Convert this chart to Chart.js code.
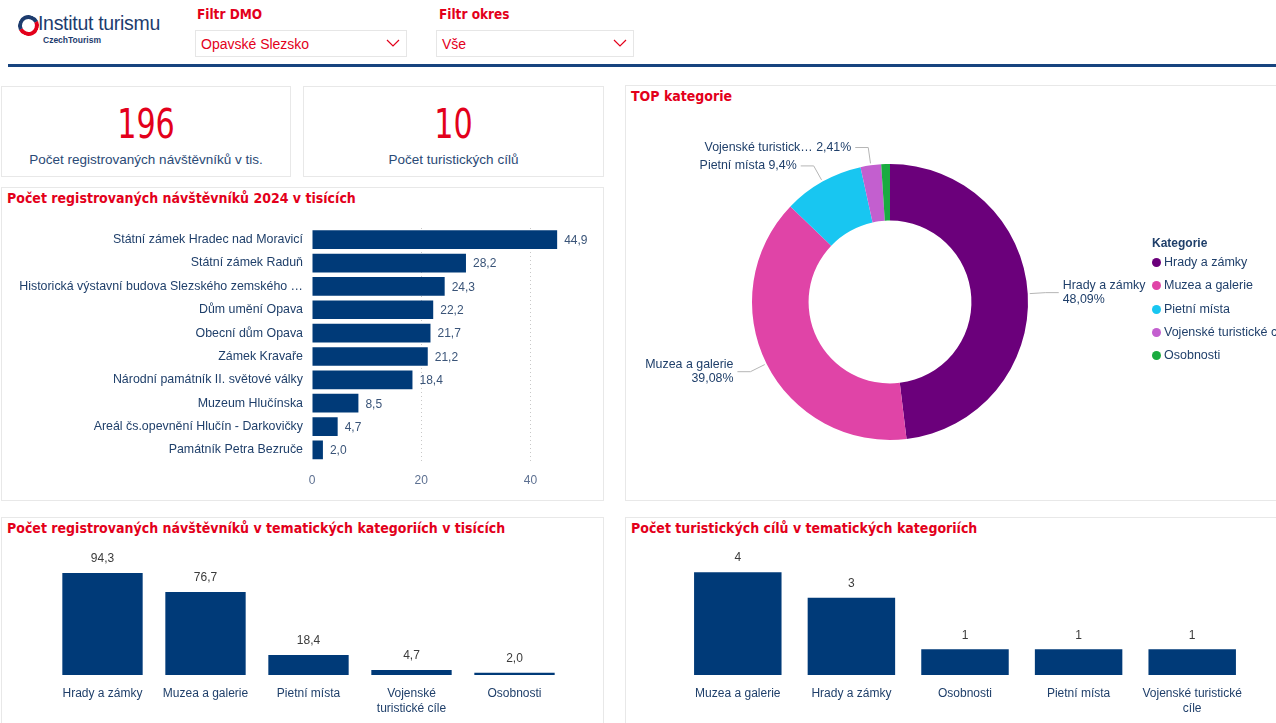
<!DOCTYPE html>
<html lang="cs">
<head>
<meta charset="utf-8">
<title>Institut turismu - Opavské Slezsko</title>
<script src="https://cdn.jsdelivr.net/npm/chart.js@4.4.1/dist/chart.umd.min.js"></script>
<style>
  body { margin:0; width:1276px; height:723px; overflow:hidden; background:#fff; position:relative;
         font-family:"Liberation Sans", Arial, sans-serif; }
  .box { position:absolute; background:#fff; border:1px solid #e8e8e8; box-sizing:border-box; }
  .title { position:absolute; left:5px; top:2px; font-family:"Liberation Sans Narrow","DejaVu Sans Condensed",sans-serif;
           font-weight:bold; font-size:14px; color:#e3001b; white-space:nowrap; }
  .kpi-num { position:absolute; left:0; right:0; top:14px; text-align:center; color:#e3001b;
             font-family:"Liberation Sans Narrow","DejaVu Sans Condensed",sans-serif; font-size:40px;
             transform:scaleX(0.84); }
  .kpi-lbl { position:absolute; left:0; right:0; top:65px; text-align:center; color:#2a4a76; font-size:13.5px; }
  .chart { position:absolute; }
  .flt-lbl { position:absolute; top:6px; font-family:"Liberation Sans Narrow","DejaVu Sans Condensed",sans-serif;
             font-weight:bold; font-size:13.5px; color:#e3001b; }
  .flt { position:absolute; top:30px; height:27px; border:1px solid #e6e6e6; box-sizing:border-box;
         color:#e3001b; font-size:14px; line-height:26px; padding-left:5px; }
  .flt svg { position:absolute; right:6px; top:8px; }
  #legend { position:absolute; left:1152px; top:236px; font-size:12.5px; color:#1f3f6a; }
  #legend .hd { font-weight:bold; font-size:12px; margin-bottom:3px; }
  #legend .it { height:23.3px; line-height:18px; white-space:nowrap; }
  #legend .dot { display:inline-block; width:9px; height:9px; border-radius:50%; margin-right:3px; vertical-align:-1px; }
</style>
</head>
<body>

<!-- hlavicka -->
<div style="position:absolute;left:18px;top:15px;width:13px;height:13px;border:4px solid #1d3c6e;border-right-color:#e3001b;border-bottom-color:#e3001b;border-radius:50%;transform:rotate(20deg)"></div>
<div style="position:absolute;left:38px;top:12px;font-size:19.5px;color:#1d3c6e;letter-spacing:-0.3px">Institut turismu</div>
<div style="position:absolute;left:43px;top:35px;font-size:8.5px;font-weight:bold;color:#1d3c6e">CzechTourism</div>

<div class="flt-lbl" style="left:197px">Filtr DMO</div>
<div class="flt" style="left:195px;width:212px">Opavské Slezsko
  <svg width="14" height="9"><polyline points="1,1 7,7 13,1" fill="none" stroke="#e3001b" stroke-width="1.2"/></svg></div>
<div class="flt-lbl" style="left:439px">Filtr okres</div>
<div class="flt" style="left:436px;width:198px">Vše
  <svg width="14" height="9"><polyline points="1,1 7,7 13,1" fill="none" stroke="#e3001b" stroke-width="1.2"/></svg></div>
<div style="position:absolute;left:8px;top:64px;width:1268px;height:3px;background:#17447f"></div>

<!-- panely -->
<div class="box" style="left:1px;top:86px;width:290px;height:91px">
  <div class="kpi-num" id="kpiVisitors"></div>
  <div class="kpi-lbl">Počet registrovaných návštěvníků v tis.</div>
</div>
<div class="box" style="left:303px;top:86px;width:301px;height:91px">
  <div class="kpi-num" id="kpiPlaces"></div>
  <div class="kpi-lbl">Počet turistických cílů</div>
</div>
<div class="box" style="left:1px;top:187px;width:603px;height:314px">
  <div class="title">Počet registrovaných návštěvníků 2024 v tisících</div>
</div>
<div class="box" style="left:625px;top:85px;width:660px;height:416px">
  <div class="title">TOP kategorie</div>
</div>
<div class="box" style="left:1px;top:517px;width:603px;height:220px">
  <div class="title">Počet registrovaných návštěvníků v tematických kategoriích v tisících</div>
</div>
<div class="box" style="left:625px;top:517px;width:660px;height:220px">
  <div class="title">Počet turistických cílů v tematických kategoriích</div>
</div>

<div class="chart" style="left:0;top:210px;width:603px;height:290px"><canvas id="placesChart"></canvas></div>
<div class="chart" style="left:625px;top:110px;width:651px;height:390px"><canvas id="donutChart"></canvas></div>
<div id="legend"></div>
<div class="chart" style="left:0;top:545px;width:603px;height:182px"><canvas id="catVisitChart"></canvas></div>
<div class="chart" style="left:625px;top:545px;width:651px;height:182px"><canvas id="catCountChart"></canvas></div>

<script>
// Data

let places = [
  "Státní zámek Hradec nad Moravicí",
  "Státní zámek Raduň",
  "Historická výstavní budova Slezského zemského muzea",
  "Dům umění Opava",
  "Obecní dům Opava",
  "Zámek Kravaře",
  "Národní památník II. světové války",
  "Muzeum Hlučínska",
  "Areál čs.opevnění Hlučín - Darkovičky",
  "Památník Petra Bezruče",
];
let placeVisitors = [44.9, 28.2, 24.3, 22.2, 21.7, 21.2, 18.4, 8.5, 4.7, 2.0];

let categories = ["Hrady a zámky", "Muzea a galerie", "Pietní místa", "Vojenské turistické cíle", "Osobnosti"];
let categoryVisitors = [94.33, 76.66, 18.44, 4.73, 2.0];
let categoryColors = ["#6b007b", "#e044a7", "#18c6f1", "#c35fcf", "#1aab40"];

let countCategories = ["Muzea a galerie", "Hrady a zámky", "Osobnosti", "Pietní místa", "Vojenské turistické cíle"];
let countValues = [4, 3, 1, 1, 1];

let xTicks = [0, 20, 40];

const navy = "#003a78";
const textBlue = "#1f3f6a";
const font = "'Liberation Sans', Arial, sans-serif";

// KPI
document.getElementById("kpiVisitors").textContent = Math.round(placeVisitors.reduce((a, b) => a + b, 0));
document.getElementById("kpiPlaces").textContent = places.length;

const fmt1 = v => v.toFixed(1).replace(".", ",");

function wrap(label, max) {
  let words = label.split(" ");
  let lines = [];
  let cur = "";
  words.forEach(w => {
    if (cur && (cur + " " + w).length > max) { lines.push(cur); cur = w; }
    else cur = cur ? cur + " " + w : w;
  });
  lines.push(cur);
  return lines;
}

// value labels next to / above bars
const barValues = {
  id: "barValues",
  afterDatasetsDraw(chart, args, opts) {
    const ctx = chart.ctx;
    const meta = chart.getDatasetMeta(0);
    const data = chart.data.datasets[0].data;
    ctx.save();
    ctx.font = "12px " + font;
    ctx.fillStyle = opts.color;
    meta.data.forEach((bar, i) => {
      const txt = opts.format(data[i]);
      ctx.textBaseline = "middle";
      if (chart.options.indexAxis === "y") {
        ctx.textAlign = "left";
        ctx.fillText(txt, bar.x + 7, bar.y + 1);
      } else {
        ctx.textAlign = "center";
        ctx.fillText(txt, bar.x, bar.y - 14);
      }
    });
    ctx.restore();
  }
};

Chart.defaults.animation = false;
Chart.defaults.font.family = font;
Chart.defaults.font.size = 12;
Chart.defaults.plugins.legend.display = false;
Chart.defaults.plugins.tooltip.enabled = false;

// Horizontal bars
new Chart(document.getElementById("placesChart"), {
  type: "bar",
  data: {
    labels: places,
    datasets: [{ data: placeVisitors, backgroundColor: navy, barPercentage: 0.8, categoryPercentage: 1 }]
  },
  options: {
    indexAxis: "y",
    responsive: true,
    maintainAspectRatio: false,
    layout: { padding: { top: 18, right: 18, bottom: 0, left: 0 } },
    scales: {
      x: {
        min: 0, max: 50,
        afterBuildTicks: scale => { scale.ticks = xTicks.map(v => ({ value: v })); },
        ticks: { color: "#5d7091", padding: 12 },
        border: { display: false, dash: [1, 3] },
        grid: { drawTicks: false, color: c => c.tick && c.tick.value === 0 ? "rgba(0,0,0,0)" : "#c8c8c8", lineWidth: 1 }
      },
      y: {
        afterFit: scale => { scale.width = 312; },
        ticks: {
          color: textBlue, padding: 9, autoSkip: false, font: { size: 12.4 },
          callback: function (v) {
            let l = this.getLabelForValue(v);
            return l.length > 46 ? l.slice(0, 45) + " …" : l;
          }
        },
        border: { display: false },
        grid: { display: false, drawTicks: false }
      }
    },
    plugins: { barValues: { color: "#3a5478", format: fmt1 } }
  },
  plugins: [barValues]
});

// Donut labels with leader lines
const donutLabels = {
  id: "donutLabels",
  afterDatasetsDraw(chart) {
    const ctx = chart.ctx;
    const data = chart.data.datasets[0].data;
    const total = data.reduce((a, b) => a + b, 0);
    ctx.save();
    ctx.font = "12.4px " + font;
    chart.getDatasetMeta(0).data.forEach((arc, i) => {
      const pct = data[i] / total * 100;
      if (pct < 2) return;
      const pctTxt = pct.toFixed(2).replace(/0+$/, "").replace(/\.$/, "").replace(".", ",") + "%";
      let name = chart.data.labels[i];
      if (name.length > 18) name = name.slice(0, 18) + "…";
      const mid = (arc.startAngle + arc.endAngle) / 2;
      const r = arc.outerRadius;
      const cos = Math.cos(mid), sin = Math.sin(mid);
      const x0 = arc.x + cos * (r + 2), y0 = arc.y + sin * (r + 2);
      const x1 = arc.x + cos * (r + 18), y1 = arc.y + sin * (r + 18);
      const side = cos >= 0 ? 1 : -1;
      const x2 = x1 + side * 13;
      ctx.strokeStyle = "#b5b5b5";
      ctx.lineWidth = 1;
      ctx.beginPath();
      ctx.moveTo(x0, y0);
      ctx.lineTo(x1, y1);
      ctx.lineTo(x2, y1);
      ctx.stroke();
      ctx.fillStyle = textBlue;
      ctx.textAlign = side > 0 ? "left" : "right";
      ctx.textBaseline = "middle";
      const tx = x2 + side * 4;
      if (Math.abs(cos) > 0.7) {
        ctx.fillText(name, tx, y1 - 7);
        ctx.fillText(pctTxt, tx, y1 + 7);
      } else {
        ctx.fillText(name + " " + pctTxt, tx, y1);
      }
    });
    ctx.restore();
  }
};

new Chart(document.getElementById("donutChart"), {
  type: "doughnut",
  data: {
    labels: categories,
    datasets: [{ data: categoryVisitors, backgroundColor: categoryColors, borderWidth: 0 }]
  },
  options: {
    responsive: true,
    maintainAspectRatio: false,
    cutout: "59%",
    layout: { padding: { left: 127, right: 248, top: 54, bottom: 60 } }
  },
  plugins: [donutLabels]
});

// legend
let lg = '<div class="hd">Kategorie</div>';
categories.forEach((c, i) => {
  lg += '<div class="it"><span class="dot" style="background:' + categoryColors[i] + '"></span>' + c + '</div>';
});
document.getElementById("legend").innerHTML = lg;

// Vertical bars
function columnChart(id, labels, values, max, pad, pct, wrapLen, format) {
  return new Chart(document.getElementById(id), {
    type: "bar",
    data: {
      labels: labels,
      datasets: [{ data: values, backgroundColor: navy, barPercentage: pct, categoryPercentage: 1 }]
    },
    options: {
      responsive: true,
      maintainAspectRatio: false,
      layout: { padding: pad },
      scales: {
        x: {
          ticks: {
            color: textBlue, padding: 11, maxRotation: 0, autoSkip: false,
            font: { lineHeight: 1.25 },
            callback: function (v) { return wrap(this.getLabelForValue(v), wrapLen); }
          },
          border: { display: false },
          grid: { display: false, drawTicks: false }
        },
        y: { display: false, min: 0, max: max }
      },
      plugins: { barValues: { color: "#3b3b3b", format: format } }
    },
    plugins: [barValues]
  });
}

columnChart("catVisitChart", categories, categoryVisitors, 97,
  { left: 51, right: 37, top: 25, bottom: 0 }, 0.78, 15, fmt1);
columnChart("catCountChart", countCategories, countValues, 4.2,
  { left: 56, right: 27, top: 22, bottom: 0 }, 0.77, 19, v => String(v));
</script>
</body>
</html>
